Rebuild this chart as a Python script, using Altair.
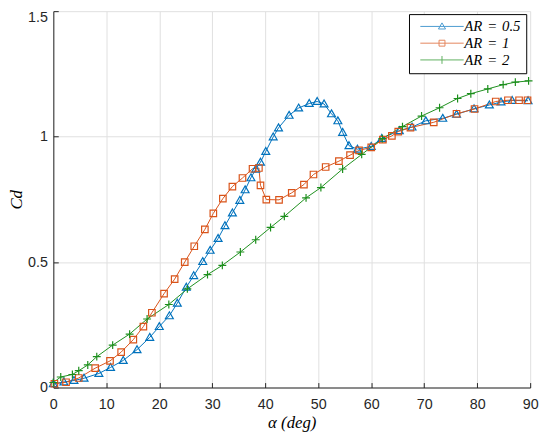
import altair as alt
import pandas as pd

SP = "\u2004"
series_labels = ["AR" + SP + "=" + SP + "0.5", "AR" + SP + "=" + SP + "1", "AR" + SP + "=" + SP + "2"]
series_colors = ["#0072BD", "#D95319", "#1c8f1c"]

ar05_alpha = [0, 2.0, 3.9, 5.8, 8.6, 10.8, 13.2, 15.8, 18.2, 20.0, 21.9, 23.4, 25.1, 26.5,
              28.2, 29.6, 31.1, 32.4, 33.8, 35.2, 36.2, 37.3, 38.2, 39.1, 40.1, 41.5, 42.5,
              44.5, 46.3, 48.3, 49.8, 51.1, 52.5, 53.7, 54.6, 55.8, 57.4, 60.0, 62.0, 65.3,
              67.7, 70.3, 73.5, 76.1, 79.4, 82.3, 84.5, 86.6, 89.6]
ar05_cd = [0.015, 0.022, 0.028, 0.037, 0.056, 0.080, 0.108, 0.151, 0.200, 0.243, 0.286, 0.336,
           0.400, 0.446, 0.502, 0.547, 0.594, 0.645, 0.696, 0.746, 0.788, 0.836, 0.870, 0.898,
           0.941, 0.999, 1.035, 1.085, 1.114, 1.132, 1.140, 1.130, 1.091, 1.063, 1.017, 0.964,
           0.950, 0.961, 0.993, 1.024, 1.038, 1.063, 1.073, 1.089, 1.111, 1.126, 1.138, 1.144,
           1.143]

ar1_alpha = [0.2, 2.4, 4.8, 7.9, 10.7, 12.8, 15.1, 17.0, 18.6, 20.9, 22.9, 24.8, 26.6, 28.6,
             30.2, 32.0, 33.8, 35.7, 37.6, 38.8, 39.1, 40.2, 42.6, 45.0, 47.3, 49.1, 51.4,
             53.9, 56.0, 57.7, 60.0, 62.2, 63.9, 65.1, 67.4, 71.8, 76.1, 79.5, 83.5, 85.8,
             87.9, 89.5]
ar1_cd = [0.015, 0.021, 0.038, 0.077, 0.106, 0.141, 0.191, 0.243, 0.298, 0.374, 0.432, 0.500,
          0.563, 0.630, 0.694, 0.753, 0.801, 0.835, 0.872, 0.875, 0.806, 0.749, 0.748, 0.776,
          0.809, 0.849, 0.879, 0.902, 0.926, 0.945, 0.957, 0.988, 1.003, 1.020, 1.036, 1.057,
          1.091, 1.110, 1.140, 1.145, 1.145, 1.145]

ar2_alpha = [0, 1.4, 3.6, 4.8, 6.5, 8.2, 11.2, 14.4, 17.7, 21.8, 25.3, 29.1, 31.9, 35.3, 38.2,
             41.0, 43.6, 47.7, 50.5, 54.6, 58.2, 62.1, 65.9, 69.5, 72.9, 76.3, 78.8, 82.0,
             84.9, 87.2, 89.7]
ar2_cd = [0.020, 0.042, 0.052, 0.067, 0.090, 0.123, 0.169, 0.213, 0.273, 0.331, 0.393, 0.450,
          0.487, 0.540, 0.589, 0.638, 0.682, 0.756, 0.797, 0.871, 0.929, 0.992, 1.040, 1.082,
          1.115, 1.152, 1.171, 1.190, 1.207, 1.217, 1.222]

x_ticks = [0, 10, 20, 30, 40, 50, 60, 70, 80, 90]
y_ticks = [0, 0.5, 1, 1.5]

# marker outlines (pixel units, drawn with size=4)
marker_paths = [
    "M0,-4L4,3L-4,3Z",
    "M-3.3,-3.3L3.3,-3.3L3.3,3.3L-3.3,3.3Z",
    "M-4,0L4,0M0,-4L0,4",
]
legend_paths = [
    "M-22,0L22,0M0,-3.6L3.6,2.6L-3.6,2.6Z",
    "M-22,0L22,0M-3,-3L3,-3L3,3L-3,3Z",
    "M-22,0L22,0M0,-4L0,4",
]

rows = []
for lab, xs, ys in zip(series_labels, [ar05_alpha, ar1_alpha, ar2_alpha], [ar05_cd, ar1_cd, ar2_cd]):
    for i, (a, c) in enumerate(zip(xs, ys)):
        rows.append({"series": lab, "alpha": a, "cd": c, "idx": i})
df = pd.DataFrame(rows)

xscale = alt.Scale(domain=[0, 90], nice=False, zero=False)
yscale = alt.Scale(domain=[0, 1.5], nice=False, zero=False)
cscale = alt.Scale(domain=series_labels, range=series_colors)
sscale = alt.Scale(domain=series_labels, range=legend_paths)

tick_col = "#262626"
main_x_axis = alt.Axis(
    orient="bottom", values=x_ticks, title="α (deg)", grid=True, gridColor="#dfdfdf",
    gridWidth=1, domainColor=tick_col, domainWidth=1, ticks=False, tickSize=0,
    labelFont="Liberation Sans", labelFontSize=14.5, labelColor=tick_col, labelPadding=10,
    labelFlush=False, labelOverlap=False,
    titleFont="Liberation Serif", titleFontStyle="italic", titleFontSize=17,
    titleFontWeight="normal", titleColor="black", titleX=242, titleY=36,
    titleAlign="center", titleBaseline="middle",
)
main_y_axis = alt.Axis(
    orient="left", values=y_ticks, format="~g", title="Cd", grid=True, gridColor="#dfdfdf",
    gridWidth=1, domainColor=tick_col, domainWidth=1, ticks=False, tickSize=0,
    labelFont="Liberation Sans", labelFontSize=14.5, labelColor=tick_col, labelPadding=6,
    labelFlush=False, labelOverlap=False,
    labelBaseline={"condition": {"test": "datum.value >= 1.5", "value": "top"}, "value": "middle"},
    titleFont="Liberation Serif", titleFontStyle="italic", titleFontSize=17,
    titleFontWeight="normal", titleColor="black", titleAngle=270, titleX=-37, titleY=191,
    titleAlign="center", titleBaseline="middle",
)
tick_x_axis = alt.Axis(orient="bottom", values=x_ticks, offset=-5, domain=False, grid=False,
                       labels=False, ticks=True, tickSize=5, tickColor=tick_col, tickWidth=1,
                       title=None)
tick_y_axis = alt.Axis(orient="left", values=y_ticks, offset=-5, domain=False, grid=False,
                       labels=False, ticks=True, tickSize=5, tickColor=tick_col, tickWidth=1,
                       title=None)

leg = alt.Legend(
    title=None, orient="none", legendX=361, legendY=3, padding=5,
    strokeColor="black", fillColor="white", cornerRadius=0,
    labelFont="Liberation Serif", labelFontStyle="italic", labelFontSize=15,
    labelColor="black", symbolSize=4, symbolStrokeWidth=1, symbolOffset=21,
    symbolFillColor="transparent", labelOffset=15, rowPadding=1,
)

base = alt.Chart(df)

lines = base.mark_line(strokeWidth=1).encode(
    x=alt.X("alpha:Q", scale=xscale, axis=main_x_axis),
    y=alt.Y("cd:Q", scale=yscale, axis=main_y_axis),
    color=alt.Color("series:N", scale=cscale, legend=leg),
    order="idx:Q",
)

point_layers = []
for lab, path, col in zip(series_labels, marker_paths, series_colors):
    point_layers.append(
        base.transform_filter(alt.datum.series == lab)
        .mark_point(shape=path, size=4, filled=False, strokeWidth=1.2, color=col, opacity=1)
        .encode(
            x=alt.X("alpha:Q", scale=xscale, axis=None),
            y=alt.Y("cd:Q", scale=yscale, axis=None),
        )
    )

legend_layer = (
    base.transform_filter("false")
    .mark_point(filled=False)
    .encode(
        x=alt.X("alpha:Q", scale=xscale, axis=tick_x_axis),
        y=alt.Y("cd:Q", scale=yscale, axis=tick_y_axis),
        color=alt.Color("series:N", scale=cscale, legend=leg),
        shape=alt.Shape("series:N", scale=sscale, legend=leg),
    )
)

chart = (
    alt.layer(lines, *point_layers, legend_layer)
    .resolve_axis(x="independent", y="independent")
    .properties(
        width=484, height=382,
        autosize=alt.AutoSizeParams(type="none"),
        padding={"left": 46, "top": 0, "right": 12, "bottom": 46},
        background="white",
    )
    .configure_view(strokeWidth=0)
)

chart.save("out.html", embed_options={"renderer": "svg", "actions": False})
